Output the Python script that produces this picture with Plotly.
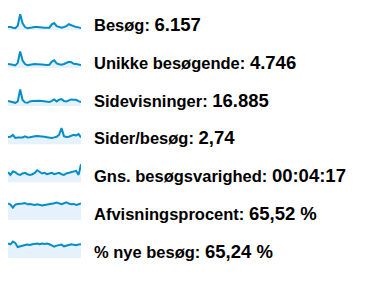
import plotly.graph_objects as go

# Daily values for each metric (31 days)
days = list(range(31))

visits = [176, 181, 158, 141, 214, 561, 287, 176, 139, 155, 168, 181, 177, 179, 166, 156,
          146, 158, 257, 296, 201, 171, 158, 177, 206, 261, 236, 189, 176, 167, 147]
unique_visitors = [137, 134, 121, 106, 164, 427, 218, 135, 107, 119, 130, 137, 134, 138, 128, 121,
                   112, 121, 192, 222, 151, 130, 119, 137, 155, 188, 178, 142, 136, 128, 114]
pageviews = [512, 481, 418, 356, 486, 1561, 602, 391, 359, 480, 508, 539, 534, 540, 511, 485,
             445, 421, 536, 664, 482, 629, 688, 512, 481, 603, 661, 625, 630, 508, 421]
pages_per_visit = [2.71, 2.72, 2.87, 2.63, 2.67, 2.69, 2.66, 2.75, 2.67, 2.69, 2.75, 2.77, 2.78,
                   2.74, 2.71, 2.72, 2.69, 2.66, 2.63, 2.67, 2.72, 2.88, 3.41, 2.77, 2.71, 2.72,
                   2.77, 2.87, 2.83, 2.93, 2.66]
avg_duration_s = [269, 229, 280, 269, 239, 229, 250, 259, 239, 229, 239, 259, 299, 269, 250, 259,
                  239, 250, 259, 239, 250, 259, 239, 229, 250, 259, 269, 280, 289, 229, 389]
bounce_rate = [67.5, 63.4, 51.3, 63.4, 65.9, 65.9, 67.5, 69.9, 64.6, 65.9, 63.4, 61.8, 64.6, 61.8,
               59.4, 61.8, 63.4, 63.4, 65.9, 68.7, 71.5, 68.7, 64.6, 68.7, 72.7, 67.5, 64.6, 65.9,
               61.8, 64.6, 67.5]
new_visits_pct = [71.4, 66.6, 79.5, 72.8, 53.8, 57.1, 63.3, 63.3, 65.2, 63.3, 66.6, 68.1, 70.0,
                  66.6, 70.0, 68.1, 70.0, 66.6, 60.5, 55.7, 60.5, 63.3, 65.2, 57.1, 58.5, 63.3,
                  66.6, 63.3, 61.9, 65.2, 66.6]

labels = ["Besøg:", "Unikke besøgende:", "Sidevisninger:", "Sider/besøg:",
          "Gns. besøgsvarighed:", "Afvisningsprocent:", "% nye besøg:"]
totals = ["6.157", "4.746", "16.885", "2,74", "00:04:17", "65,52 %", "65,24 %"]

series = [visits, unique_visitors, pageviews, pages_per_visit,
          avg_duration_s, bounce_rate, new_visits_pct]

# Per-sparkline value axis: (lower bound, value per pixel)
axis_scale = [(88, 30), (44, 23), (60, 90), (2.13, 0.08), (119, 15), (0, 4.04), (0, 4.76)]

W, H = 376, 292
LINE = "#058dc7"
FILL = "#e6f2fb"
spark_x0, spark_x1 = 8, 81
spark_h = 20

fig = go.Figure()
layout = dict(
    width=W, height=H,
    margin=dict(l=0, r=0, t=0, b=0),
    paper_bgcolor="white", plot_bgcolor="rgba(0,0,0,0)",
    showlegend=False,
)

annotations = []
for i, (vals, lab, tot, (lo, k)) in enumerate(zip(series, labels, totals, axis_scale)):
    n = i + 1
    xa = "x" if n == 1 else f"x{n}"
    ya = "y" if n == 1 else f"y{n}"
    fig.add_trace(go.Scatter(
        x=days, y=vals, xaxis=xa, yaxis=ya, mode="lines",
        line=dict(color=LINE, width=2, shape="linear"),
        fill="tozeroy", fillcolor=FILL, hoverinfo="skip",
    ))
    bottom = 30 + 38.05 * i
    top = bottom - spark_h
    dom_y = [1 - bottom / H, 1 - top / H]
    ax_common = dict(visible=False, showgrid=False, zeroline=False, fixedrange=True)
    layout["xaxis" if n == 1 else f"xaxis{n}"] = dict(
        domain=[spark_x0 / W, spark_x1 / W], range=[0, len(vals) - 1],
        anchor=ya, **ax_common)
    layout["yaxis" if n == 1 else f"yaxis{n}"] = dict(
        domain=dom_y, range=[lo, lo + spark_h * k], anchor=xa, **ax_common)

    center = 24.5 + 37.8 * i
    annotations.append(dict(
        xref="paper", yref="paper", x=92 / W, y=1 - center / H,
        xanchor="left", yanchor="middle", showarrow=False,
        text=f"<b>{lab} </b><b><span style='font-size:18.5px'>{tot}</span></b>",
        font=dict(family="Liberation Sans, Arial, sans-serif", size=16.5, color="black"),
    ))

layout["annotations"] = annotations
fig.update_layout(**layout)
fig.write_html("out.html")
